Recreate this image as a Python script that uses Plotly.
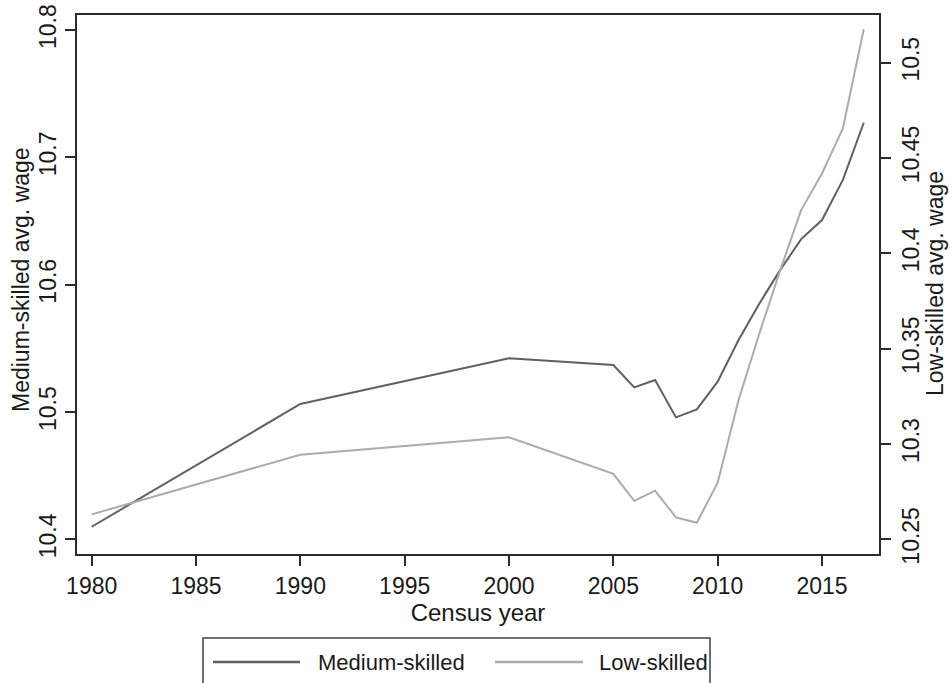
import plotly.graph_objects as go

years = [1980, 1990, 2000, 2005, 2006, 2007, 2008, 2009, 2010,
         2011, 2012, 2013, 2014, 2015, 2016, 2017]
medium_skilled = [10.4099, 10.5063, 10.5422, 10.5369, 10.5194, 10.5251,
                  10.4958, 10.5021, 10.5238, 10.5565, 10.5853, 10.6116,
                  10.6358, 10.6508, 10.6823, 10.7272]
low_skilled = [10.2631, 10.2944, 10.3035, 10.2843, 10.2702, 10.2755,
               10.2615, 10.2587, 10.2797, 10.3231, 10.3581, 10.3912,
               10.4227, 10.4419, 10.4655, 10.5175]

x_ticks = [1980, 1985, 1990, 1995, 2000, 2005, 2010, 2015]
left_ticks = [10.4, 10.5, 10.6, 10.7, 10.8]
left_labels = ["10.4", "10.5", "10.6", "10.7", "10.8"]
right_ticks = [10.25, 10.3, 10.35, 10.4, 10.45, 10.5]
right_labels = ["10.25", "10.3", "10.35", "10.4", "10.45", "10.5"]

x_title = "Census year"
left_title = "Medium-skilled avg. wage"
right_title = "Low-skilled avg. wage"

DARK = "#606060"
LIGHT = "#ababab"
AXIS = "#2b2b2b"
TXT = "#1a1a1a"
FONT = "Liberation Sans, Arial, sans-serif"

fig = go.Figure()
fig.add_trace(go.Scatter(x=years, y=medium_skilled, mode="lines",
                         name="Medium-skilled",
                         line=dict(color=DARK, width=2), yaxis="y"))
fig.add_trace(go.Scatter(x=years, y=low_skilled, mode="lines",
                         name="Low-skilled",
                         line=dict(color=LIGHT, width=2), yaxis="y2"))

W, H = 950, 683
ml, mr, mt, mb = 77, 71, 15, 129
pw = W - ml - mr
ph = H - mt - mb

def px(x):
    return (x - ml) / pw

def py(y):
    return (H - mb - y) / ph

fig.update_layout(
    width=W, height=H,
    margin=dict(l=ml, r=mr, t=mt, b=mb, autoexpand=False),
    paper_bgcolor="white", plot_bgcolor="white",
    showlegend=False,
    font=dict(family=FONT, color=TXT, size=23),
    xaxis=dict(
        range=[1979.296, 2017.731], tickvals=x_ticks,
        ticks="outside", ticklen=10, tickwidth=1.5, tickcolor=AXIS,
        showline=True, linecolor=AXIS, linewidth=2, mirror=True,
        showgrid=False, zeroline=False,
        tickfont=dict(size=23, color=TXT),
        title=dict(text=x_title, font=dict(size=24, color=TXT), standoff=2),
        automargin=False,
    ),
    yaxis=dict(
        range=[10.3885, 10.8118], tickvals=left_ticks, ticktext=left_labels,
        ticks="outside", ticklen=10, tickwidth=1.5, tickcolor=AXIS,
        showline=True, linecolor=AXIS, linewidth=2,
        showgrid=False, zeroline=False, tickangle=-90,
        tickfont=dict(size=23, color=TXT),
        automargin=False,
    ),
    yaxis2=dict(
        range=[10.2423, 10.5250], tickvals=right_ticks, ticktext=right_labels,
        overlaying="y", side="right",
        ticks="outside", ticklen=10, tickwidth=1.5, tickcolor=AXIS,
        showline=True, linecolor=AXIS, linewidth=2,
        showgrid=False, zeroline=False, tickangle=-90,
        tickfont=dict(size=23, color=TXT),
        automargin=False,
    ),
)

# Y-axis titles (Stata places them close to the tick labels)
fig.add_annotation(x=px(21), y=py(280), xref="paper", yref="paper",
                   text=left_title, showarrow=False, textangle=-90,
                   xanchor="center", yanchor="middle",
                   font=dict(size=23, color=TXT))
fig.add_annotation(x=px(935), y=py(284), xref="paper", yref="paper",
                   text=right_title, showarrow=False, textangle=-90,
                   xanchor="center", yanchor="middle",
                   font=dict(size=23, color=TXT))

# Legend box (Stata-style, bottom cut by figure edge)
fig.add_shape(type="rect", xref="paper", yref="paper",
              x0=px(203), x1=px(710), y0=py(705), y1=py(638),
              line=dict(color="#404040", width=1.5), fillcolor="white")
legend_items = [("Medium-skilled", DARK, 213, 300, 316),
                ("Low-skilled", LIGHT, 495, 583, 597)]
for label, col, lx0, lx1, tx in legend_items:
    fig.add_shape(type="line", xref="paper", yref="paper",
                  x0=px(lx0), x1=px(lx1), y0=py(662), y1=py(662),
                  line=dict(color=col, width=2.5))
    fig.add_annotation(x=px(tx), y=py(662), xref="paper", yref="paper",
                       text=label, showarrow=False, xanchor="left",
                       yanchor="middle", font=dict(size=22, color=TXT))

fig.write_html("out.html", config={"displayModeBar": False},
               post_script="document.body.style.margin='0';document.body.style.overflow='hidden';")
